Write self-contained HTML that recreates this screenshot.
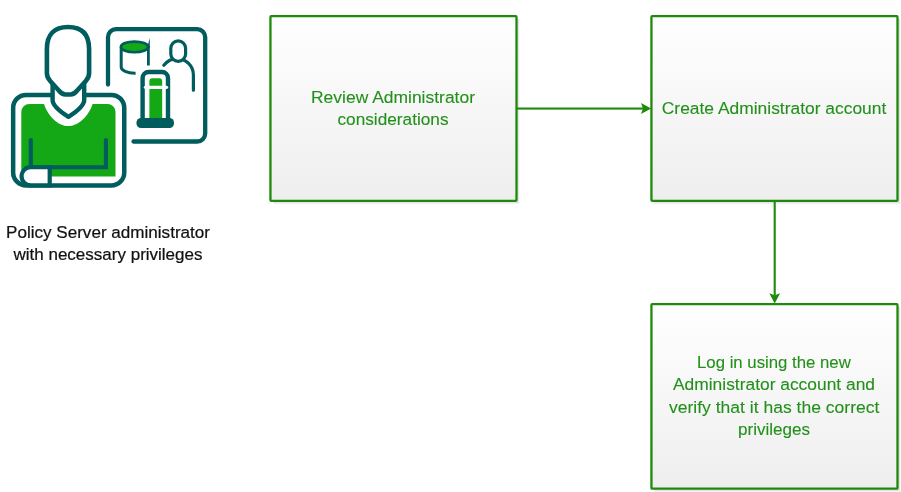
<!DOCTYPE html>
<html><head><meta charset="utf-8">
<style>
html,body{margin:0;padding:0;background:#ffffff;width:901px;height:492px;overflow:hidden;}
svg{display:block;will-change:transform;}
text{font-family:"Liberation Sans",sans-serif;}
</style></head><body>
<svg width="901" height="492" viewBox="0 0 901 492">
<defs>
<linearGradient id="bg" x1="0" y1="0" x2="0" y2="1">
<stop offset="0" stop-color="#ffffff"/>
<stop offset="1" stop-color="#eeeeee"/>
</linearGradient>
</defs>

<!-- boxes -->
<g>
<rect x="273.2" y="19" width="246.05" height="184.6" fill="#e7e3eb"/>
<rect x="270.45" y="16.2" width="246.05" height="184.6" rx="0.8" fill="url(#bg)" stroke="#1e8a0a" stroke-width="2.3"/>
<rect x="654.2" y="19" width="246.05" height="184.6" fill="#e7e3eb"/>
<rect x="651.45" y="16.2" width="246.05" height="184.6" rx="0.8" fill="url(#bg)" stroke="#1e8a0a" stroke-width="2.3"/>
<rect x="654.2" y="307" width="246.05" height="184.5" fill="#e7e3eb"/>
<rect x="651.45" y="304.2" width="246.05" height="184.5" rx="0.8" fill="url(#bg)" stroke="#1e8a0a" stroke-width="2.3"/>
</g>

<!-- arrows -->
<g fill="#1e8a0a" stroke="none">
<rect x="517" y="107.5" width="126" height="2.1"/>
<polygon points="641,103 651.2,108.55 641,114.1 643,108.55"/>
<rect x="773.65" y="201" width="2.1" height="94"/>
<polygon points="769.3,293.3 774.7,295.3 780.1,293.3 774.7,303.6"/>
</g>

<!-- box text -->
<g fill="#22901a" stroke="#22901a" stroke-width="0.1" font-size="16.8">
<text x="311" y="102.6" textLength="164" lengthAdjust="spacingAndGlyphs">Review Administrator</text>
<text x="337.5" y="124.8" textLength="111" lengthAdjust="spacingAndGlyphs">considerations</text>
<text x="661.8" y="113.8" textLength="224.5" lengthAdjust="spacingAndGlyphs">Create Administrator account</text>
<text x="697" y="368" textLength="153.8" lengthAdjust="spacingAndGlyphs">Log in using the new</text>
<text x="673" y="390.3" textLength="202" lengthAdjust="spacingAndGlyphs">Administrator account and</text>
<text x="669" y="412.9" textLength="210.4" lengthAdjust="spacingAndGlyphs">verify that it has the correct</text>
<text x="738" y="434.7" textLength="72" lengthAdjust="spacingAndGlyphs">privileges</text>
</g>
<g fill="#111111" stroke="#111111" stroke-width="0.22" font-size="16.8">
<text x="6" y="237.9" textLength="204" lengthAdjust="spacingAndGlyphs">Policy Server administrator</text>
<text x="13.5" y="260.4" textLength="189" lengthAdjust="spacingAndGlyphs">with necessary privileges</text>
</g>

<!-- icon -->
<g id="icon" fill="none" stroke-linecap="round" stroke-linejoin="round">
<!-- green body fill -->
<path d="M21.3,111.9 A8,8 0 0 1 29.3,103.9 H44 C48,116 58,126 68.3,126 C78.6,126 88.6,116 92.6,103.9 H107.5 A8,8 0 0 1 115.5,111.9 V176.6 H21.3 Z" fill="#15a816"/>
<!-- body outline -->
<path d="M52.4,94.9 H26.15 A13,13 0 0 0 13.15,107.9 V172.45 A13,13 0 0 0 26.15,185.45 H111.25 A13,13 0 0 0 124.25,172.45 V107.9 A13,13 0 0 0 111.25,94.9 H84" stroke="#015c5e" stroke-width="4.5" stroke-linecap="butt"/>
<!-- collar -->
<path d="M52.6,83 V100 C52.6,106 61.5,112.5 68.4,116.8 C75.3,112.5 84.2,106 84.2,100 V83" stroke="#015c5e" stroke-width="4.4"/>
<!-- head -->
<path d="M46.9,49 V73 Q46.9,77.5 50.2,81 L58.8,90.5 Q62,94.5 65.5,94.5 H70.5 Q74,94.5 77.2,90.5 L85.8,81 Q89.1,77.5 89.1,73 V49 C89.1,34.3 81.8,27 68,27 C54.2,27 46.9,34.3 46.9,49 Z" fill="#ffffff" stroke="#015c5e" stroke-width="4.6"/>
<!-- arms -->
<path d="M30.8,140 V167.2" stroke="#015c5e" stroke-width="4.2"/>
<path d="M105.9,140 V167.2 H30.7" stroke="#015c5e" stroke-width="4.1" stroke-linejoin="miter"/>
<!-- hand -->
<path d="M49.7,185.45 V167.2 H30.7 A9.125,9.125 0 0 0 30.7,185.45 Z" fill="#ffffff" stroke="#015c5e" stroke-width="4.2" stroke-linejoin="miter"/>
<!-- screen -->
<path d="M108,84.5 V37.2 A8,8 0 0 1 116,29.2 H197.2 A8,8 0 0 1 205.2,37.2 V133.5 A8,8 0 0 1 197.2,141.5 H133.5" stroke="#015c5e" stroke-width="4.3"/>
<!-- database -->
<path d="M121.2,47 V67 A13.6,6.2 0 0 0 134.8,73.2 H135.6" stroke="#015c5e" stroke-width="3" stroke-linecap="butt"/>
<path d="M148.4,46 V65.5" stroke="#015c5e" stroke-width="2.8" stroke-linecap="butt"/>
<polygon points="147,48 149.8,38 149.8,48" fill="#015c5e"/>
<ellipse cx="134.5" cy="46.9" rx="13.55" ry="5.35" fill="#15a816" stroke="#015c5e" stroke-width="2.7"/>
<!-- person -->
<path d="M163.8,65.3 C167.5,60.7 172.5,58.7 177,58.7 C186,58.7 193.4,66 193.4,75 V90.2" stroke="#015c5e" stroke-width="3.2"/>
<rect x="170.8" y="40.9" width="14.8" height="20.5" rx="7.4" ry="7.4" fill="#ffffff" stroke="#015c5e" stroke-width="3.2"/>
<!-- server -->
<path d="M142.6,118 V78 A6,6 0 0 1 148.6,72 H162 A6,6 0 0 1 168,78 V118" fill="#ffffff" stroke="#015c5e" stroke-width="4.4" stroke-linecap="butt"/>
<path d="M149.4,118 V81.3 A3,3 0 0 1 152.4,78.3 H159.2 A3,3 0 0 1 162.2,81.3 V118 Z" fill="#15a816"/>
<path d="M145.5,87.3 H166.5" stroke="#ffffff" stroke-width="3.3"/>
<rect x="136.5" y="118" width="37.5" height="10" rx="4.5" ry="4.5" fill="#015c5e"/>
</g>
</svg>
</body></html>
